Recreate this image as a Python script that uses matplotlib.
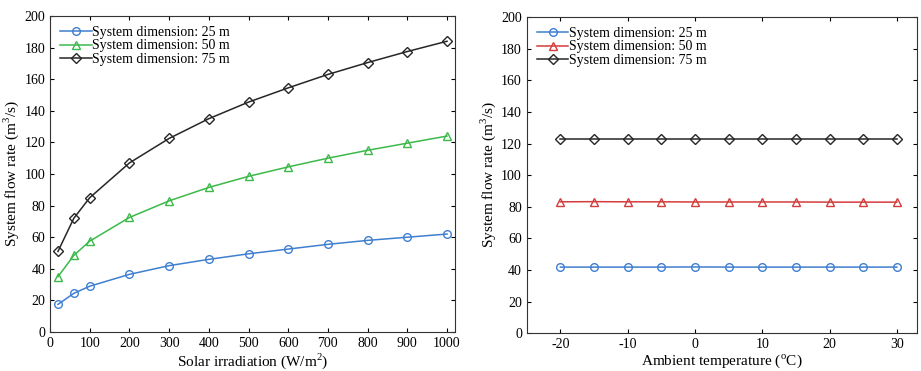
import matplotlib.pyplot as plt
import numpy as np

plt.rcParams['font.family'] = ['Liberation Serif', 'DejaVu Serif']
plt.rcParams['mathtext.fontset'] = 'custom'
plt.rcParams['mathtext.rm'] = 'Liberation Serif'

# left panel: flow rate vs solar irradiation
irradiation = [20, 60, 100, 200, 300, 400, 500, 600, 700, 800, 900, 1000]
flow_25_irr = [17.5, 24.5, 29, 36.5, 42, 46, 49.5, 52.5, 55.5, 58, 60, 62]
flow_50_irr = [35, 48.5, 57.5, 72.5, 83, 91.5, 98.5, 104.5, 110, 115, 119.5, 124]
flow_75_irr = [51, 72, 85, 107, 122.5, 135, 145.5, 154.5, 163, 170.5, 177.5, 184]

# right panel: flow rate vs ambient temperature
temperature = [-20, -15, -10, -5, 0, 5, 10, 15, 20, 25, 30]
flow_25_temp = [41.8, 41.8, 41.8, 41.8, 41.9, 41.8, 41.8, 41.8, 41.8, 41.8, 41.8]
flow_50_temp = [83.1, 83.2, 83.1, 83.1, 83.0, 83.0, 83.0, 83.0, 82.9, 82.9, 82.9]
flow_75_temp = [122.6, 122.6, 122.6, 122.6, 122.6, 122.6, 122.6, 122.6, 122.6, 122.6, 122.6]

labels = ['System dimension: 25 m', 'System dimension: 50 m', 'System dimension: 75 m']

fig = plt.figure(figsize=(9.21, 3.71), dpi=100)
ax1 = fig.add_axes([0.0543, 0.105, 0.4397, 0.852])
ax2 = fig.add_axes([0.572, 0.102, 0.4237, 0.852])

blue = '#3f7fd0'
green = '#3cb94a'
red = '#d43c3c'
black = '#262626'

mk = dict(markerfacecolor='none', markersize=5.5, linewidth=1.1, markeredgewidth=1.0)
mkd = dict(markerfacecolor='none', markersize=4.8, linewidth=1.1, markeredgewidth=1.0)

ax1.plot(irradiation, flow_25_irr, '-o', color=blue, label=labels[0], **mk)
ax1.plot(irradiation, flow_50_irr, '-^', color=green, label=labels[1], **mk)
ax1.plot(irradiation, flow_75_irr, '-D', color=black, label=labels[2], **mkd)
ax1.set_xlim(0, 1020)
ax1.set_xticks(np.arange(0, 1001, 100))
ax1.set_xlabel(r'Solar irradiation (W/m$^2$)', fontsize=11, labelpad=1)

ax2.plot(temperature, flow_25_temp, '-o', color=blue, label=labels[0], **mk)
ax2.plot(temperature, flow_50_temp, '-^', color=red, label=labels[1], **mk)
ax2.plot(temperature, flow_75_temp, '-D', color=black, label=labels[2], **mkd)
ax2.set_xlim(-25, 33)
ax2.set_xticks(np.arange(-20, 31, 10))
ax2.set_xticklabels(['-20', '-10', '0', '10', '20', '30'])
ax2.set_xlabel(r'Ambient temperature ($^{\rm o}$C)', fontsize=11, labelpad=1)

for ax in (ax1, ax2):
    ax.set_ylim(0, 200)
    ax.set_yticks(np.arange(0, 201, 20))
    ax.set_ylabel(r'System flow rate (m$^3$/s)', fontsize=11, labelpad=2)
    ax.tick_params(direction='in', top=True, right=True, labelsize=10, length=3, width=0.8)
    for s in ax.spines.values():
        s.set_color('#333333')
        s.set_linewidth(0.8)
    ax.legend(loc='upper left', frameon=False, fontsize=10, handlelength=2.3,
              handletextpad=0.05, labelspacing=0.05, borderaxespad=0.4, borderpad=0.3)

plt.savefig('out.png', dpi=100)
